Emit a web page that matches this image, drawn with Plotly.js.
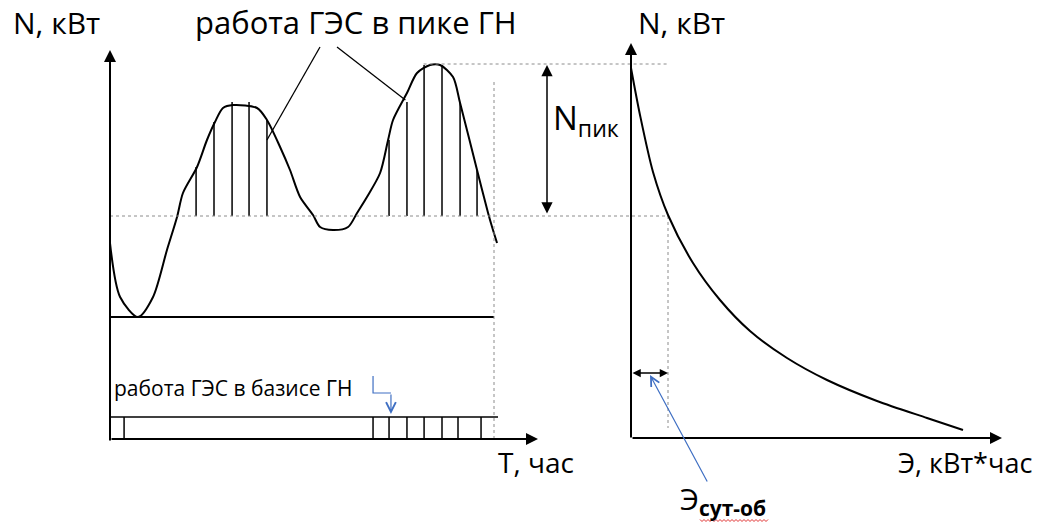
<!DOCTYPE html>
<html><head><meta charset="utf-8">
<script src="https://cdn.plot.ly/plotly-3.0.1.min.js"></script>
<style>html,body{margin:0;padding:0;background:#fff}#chart{width:1043px;height:527px}</style>
</head><body><div id="chart"></div>
<script>
// ---- Daily load curve (left panel): hours vs kW ----
const loadHours = [0, 0.63, 1.75, 2.69, 3.56, 4.19, 4.56, 5.44, 6.06, 6.56, 7.06, 7.69, 9.19, 9.81, 10.63, 11.25, 11.88, 12.69, 13.13, 13.94, 14.88, 15.44, 16.06, 16.88, 17.38, 17.69, 18.56, 19.19, 20.0, 20.63, 21.44, 21.88, 22.94, 23.63, 23.88, 24.19];
const loadKW    = [1960, 1420, 1220, 1420, 1890, 2220, 2460, 2720, 2990, 3170, 3310, 3340, 3310, 3190, 2920, 2690, 2420, 2240, 2120, 2090, 2120, 2260, 2420, 2660, 2990, 3190, 3460, 3660, 3740, 3740, 3620, 3360, 2690, 2260, 2120, 1960];
const baseKW = 2230;      // level above which the HPP covers the peak
const minKW = 1220;       // night minimum
const peakKW = 3740;      // daily maximum
const dayEnd = 24;
const peakHatchHours = [5.38, 6.5, 7.63, 8.69, 9.81, 17.44, 18.56, 19.63, 20.75, 21.88, 22.94];
const peakHatchTopKW = [2720, 3170, 3370, 3370, 3190, 2990, 3370, 3740, 3740, 3360, 2690];
const baseStripHours = [0.88, 16.44, 17.44, 18.56, 19.63, 20.75, 21.75, 23.19];
const baseStripKW = 220;
// ---- Energy (integral) curve (right panel) ----
const energy   = [0, 0.9, 2.2, 3.7, 6.2, 8.9, 11.9, 15.6, 19.6, 24.6, 29.6, 33.2];
const energyKW = [3710, 3240, 2670, 2240, 1760, 1390, 1080, 810, 590, 380, 210, 90];
const dailyEnergyE = 3.7;
const dailyEnergyMarkKW = 660;
// ---- Texts ----
const txtN = 'N, кВт';
const txtPeak = 'работа ГЭС в пике ГН';
const txtBase = 'работа ГЭС в базисе ГН';
const txtT = 'Т, час';
const txtE = 'Э, кВт*час';
const txtNpik = 'N<sub>пик</sub>';
const txtEsut = 'Э<sub><b>сут-об</b></sub>';

// ---- layout mapping ----
const W = 1043, H = 527;
const xPix0 = 110, pxPerHour = 16;
const ePix0 = 631, pxPerE = 10;
const yPix0 = 439, kwPerPx = 10;
const xRange = [-xPix0 / pxPerHour, (W - xPix0) / pxPerHour];
const x2Range = [-ePix0 / pxPerE, (W - ePix0) / pxPerE];
const yRange = [-(H - yPix0) * kwPerPx, yPix0 * kwPerPx];
const hourToE = h => (xPix0 + h * pxPerHour - ePix0) / pxPerE;
const px = x => x / W, py = y => 1 - y / H;

const BLACK = '#000', GREY = '#8c8c8c', BLUE = '#3f6fc3';
const FONT = '"Open Sans", "Noto Sans", sans-serif';

function segs(xs, y0s, y1s) {
  const X = [], Y = [];
  xs.forEach((x, i) => { X.push(x, x, null); Y.push(Array.isArray(y0s) ? y0s[i] : y0s, Array.isArray(y1s) ? y1s[i] : y1s, null); });
  return {X, Y};
}
const hatch = segs(peakHatchHours, baseKW, peakHatchTopKW);
const strip = segs(baseStripHours, 0, baseStripKW);

const traces = [
  {x: loadHours, y: loadKW, mode: 'lines', line: {color: BLACK, width: 2, shape: 'spline', smoothing: 0.8}},
  {x: hatch.X, y: hatch.Y, mode: 'lines', line: {color: BLACK, width: 1.5}},
  {x: [0, dayEnd], y: [minKW, minKW], mode: 'lines', line: {color: BLACK, width: 2}},
  {x: [0, dayEnd + 0.25], y: [baseStripKW, baseStripKW], mode: 'lines', line: {color: BLACK, width: 1.5}},
  {x: strip.X, y: strip.Y, mode: 'lines', line: {color: BLACK, width: 1.5}},
  {x: [dayEnd, dayEnd], y: [peakKW - 170, -20], mode: 'lines', line: {color: GREY, width: 1, dash: 'dot'}},
  // dotted reference levels carried across to the right panel
  {x: [hourToE(0), dailyEnergyE], y: [baseKW, baseKW], xaxis: 'x2', mode: 'lines', line: {color: GREY, width: 1, dash: 'dot'}},
  {x: [hourToE(19.6), dailyEnergyE], y: [peakKW + 10, peakKW + 10], xaxis: 'x2', mode: 'lines', line: {color: GREY, width: 1, dash: 'dot'}},
  {x: [dailyEnergyE, dailyEnergyE], y: [baseKW, 110], xaxis: 'x2', mode: 'lines', line: {color: GREY, width: 1, dash: 'dot'}},
  {x: energy, y: energyKW, xaxis: 'x2', mode: 'lines', line: {color: BLACK, width: 2, shape: 'spline', smoothing: 0.8}},
];
traces.forEach(t => { t.hoverinfo = 'skip'; t.showlegend = false; });

function arrow(xref, x, y, ax, ay, opts) {
  return Object.assign({xref: xref, yref: 'y', axref: xref, ayref: 'y', x: x, y: y, ax: ax, ay: ay, text: '', showarrow: true,
    arrowhead: 2, arrowsize: 1.2, arrowwidth: 2, arrowcolor: BLACK, standoff: 0, startstandoff: 0}, opts || {});
}
function label(text, x, y, size, xanchor, opts) {
  return Object.assign({xref: 'paper', yref: 'paper', x: px(x), y: py(y), text: text, showarrow: false,
    xanchor: xanchor || 'left', yanchor: 'middle', font: {family: FONT, size: size, color: BLACK}}, opts || {});
}

const annotations = [
  // axes with arrowheads
  arrow('x', 0, (yPix0 - 50) * kwPerPx, 0, -30),
  arrow('x', (538 - xPix0) / pxPerHour, 0, 0, 0),
  arrow('x2', 0, (yPix0 - 43) * kwPerPx, 0, 0),
  arrow('x2', (1002 - ePix0) / pxPerE, 10, 0, 10),
  // N peak dimension
  arrow('x', (547 - xPix0) / pxPerHour, peakKW, (547 - xPix0) / pxPerHour, baseKW + 10,
        {arrowside: 'end+start', startarrowhead: 2, arrowwidth: 1.5, arrowsize: 1.5, startarrowsize: 1.5}),
  // daily energy dimension
  arrow('x2', dailyEnergyE, dailyEnergyMarkKW, 0, dailyEnergyMarkKW,
        {arrowside: 'end+start', startarrowhead: 2, arrowwidth: 1.5, arrowsize: 1.1, startarrowsize: 1.1}),
  // blue pointer to daily energy
  arrow('x2', 1.9, dailyEnergyMarkKW - 20, 7.7, -440, {arrowhead: 5, arrowwidth: 1.2, arrowsize: 1.5, arrowcolor: BLUE}),
  // blue bent pointer to base strip
  arrow('x', 17.56, baseStripKW + 30, 17.56, 460, {arrowhead: 5, arrowwidth: 1.2, arrowsize: 1.6, arrowcolor: BLUE}),
  // texts
  label(txtN, 11, 22, 30),
  label(txtPeak, 356, 22, 31, 'center'),
  label(txtN, 636, 22, 30),
  label(txtNpik, 551, 120, 33),
  label(txtBase, 112, 388, 21),
  label(txtT, 496, 462, 28),
  label(txtE, 896, 462, 27),
  label(txtEsut, 678, 500, 30),
];

const shapes = [
  // callout lines from the "peak" caption
  {type: 'line', xref: 'x', yref: 'y', x0: (320 - xPix0) / pxPerHour, y0: 3920, x1: peakHatchHours[4], y1: 2990, line: {color: BLACK, width: 1.3}},
  {type: 'line', xref: 'x', yref: 'y', x0: (337 - xPix0) / pxPerHour, y0: 3920, x1: peakHatchHours[6] - 0.1, y1: 3390, line: {color: BLACK, width: 1.3}},
  // blue bent line
  {type: 'path', xref: 'x', yref: 'y', path: 'M16.44,630 L16.44,460 L17.56,460', line: {color: BLUE, width: 1.2}},
  // red wavy spell-check underline
  {type: 'path', xref: 'paper', yref: 'paper',
   path: (() => { let s = ''; for (let i = 0; i <= 34; i++) { const x = px(700 + i * 2), y = py(520 + (i % 2 ? 1.5 : -0.5)); s += (i ? ' L' : 'M') + x + ',' + y; } return s; })(),
   line: {color: '#e03030', width: 1}},
];

const layout = {
  width: W, height: H, margin: {l: 0, r: 0, t: 0, b: 0},
  paper_bgcolor: '#fff', plot_bgcolor: '#fff', showlegend: false,
  font: {family: FONT, color: BLACK},
  xaxis: {domain: [0, 1], range: xRange, visible: false, fixedrange: true},
  xaxis2: {domain: [0, 1], range: x2Range, visible: false, overlaying: 'x', anchor: 'y', fixedrange: true},
  yaxis: {domain: [0, 1], range: yRange, visible: false, fixedrange: true},
  annotations: annotations, shapes: shapes,
};
Plotly.newPlot('chart', traces, layout, {staticPlot: true, displayModeBar: false});
</script></body></html>
